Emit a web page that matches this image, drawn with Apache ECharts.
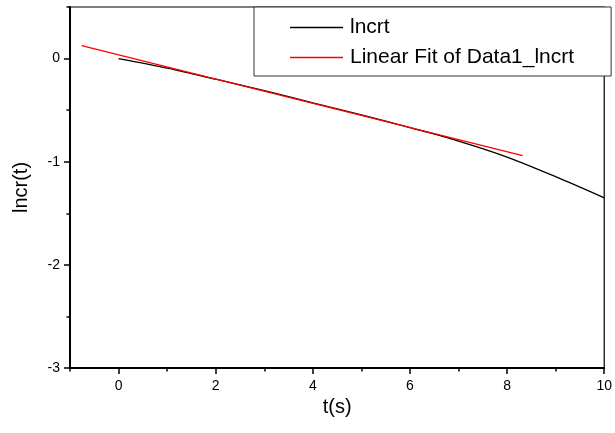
<!DOCTYPE html>
<html>
<head>
<meta charset="utf-8">
<script src="https://cdn.jsdelivr.net/npm/echarts@6/dist/echarts.min.js"></script>
<style>
html,body{margin:0;padding:0;background:#fff;}
#chart{width:615px;height:433px;}
</style>
</head>
<body>
<div id="chart"></div>
<script>
// ---- data ----
const tValues = [0, 1, 2, 3, 4, 5, 6, 7, 8, 9, 10];
const lncrtValues = [0, -0.092, -0.20, -0.31, -0.43, -0.545, -0.67, -0.80, -0.955, -1.145, -1.35];
const fitT = [-0.76, 8.32];
const fitValues = [0.126, -0.94];
const xMajorTicks = [0, 2, 4, 6, 8, 10];
const xMinorTicks = [-1, 1, 3, 5, 7, 9];
const yMajorTicks = [-3, -2, -1, 0];
const yMinorTicks = [-2.5, -1.5, -0.5, 0.5];
const seriesNames = ['lncrt', 'Linear Fit of Data1_lncrt'];
const xTitle = 't(s)';
const yTitle = 'lncr(t)';

const FONT = 'Liberation Sans';
const chart = echarts.init(document.getElementById('chart'), null, {renderer: 'canvas'});

const curve = tValues.map((t, i) => [t, lncrtValues[i]]);
const fit = fitT.map((t, i) => [t, fitValues[i]]);

const baseX = {
  type: 'value', min: -1, max: 10, gridIndex: 0, position: 'bottom',
  splitLine: {show: false}
};
const baseY = {
  type: 'value', min: -3, max: 0.5, gridIndex: 0, position: 'left',
  splitLine: {show: false}
};

chart.setOption({
  animation: false,
  backgroundColor: '#fff',
  grid: {
    left: 70, top: 7, width: 539, height: 361,
    show: true, borderColor: '#000', borderWidth: 1.2, backgroundColor: 'transparent'
  },
  legend: {
    orient: 'vertical', left: 254, top: 7,
    data: seriesNames.map(n => ({name: n, icon: 'rect'})),
    itemWidth: 53, itemHeight: 1.3, itemGap: 9,
    padding: [10, 37, 8, 36],
    borderColor: '#333', borderWidth: 1, backgroundColor: '#fff',
    textStyle: {fontFamily: FONT, fontSize: 21, color: '#000', padding: [0, 0, 0, 2]}
  },
  xAxis: [
    Object.assign({}, baseX, {
      name: xTitle, nameLocation: 'middle', nameGap: 22,
      nameTextStyle: {fontFamily: FONT, fontSize: 20, color: '#000'},
      axisLine: {show: true, onZero: false, lineStyle: {color: '#000', width: 2}},
      axisTick: {show: true, length: 6, customValues: xMajorTicks, lineStyle: {color: '#000', width: 1.5}},
      axisLabel: {show: true, margin: 11, customValues: xMajorTicks, alignMaxLabel: 'center', alignMinLabel: 'center',
        fontFamily: FONT, fontSize: 14, color: '#000'}
    }),
    Object.assign({}, baseX, {
      axisLine: {show: false, onZero: false},
      axisTick: {show: true, length: 3.5, customValues: xMinorTicks, lineStyle: {color: '#000', width: 1.5}},
      axisLabel: {show: false}
    })
  ],
  yAxis: [
    Object.assign({}, baseY, {
      name: yTitle, nameLocation: 'middle', nameGap: 39, nameRotate: 90,
      nameTextStyle: {fontFamily: FONT, fontSize: 20, color: '#000'},
      axisLine: {show: true, onZero: false, lineStyle: {color: '#000', width: 2}},
      axisTick: {show: true, length: 6, customValues: yMajorTicks, lineStyle: {color: '#000', width: 1.5}},
      axisLabel: {show: true, margin: 10, customValues: yMajorTicks, fontFamily: FONT, fontSize: 14, color: '#000'}
    }),
    Object.assign({}, baseY, {
      axisLine: {show: false, onZero: false},
      axisTick: {show: true, length: 3.5, customValues: yMinorTicks, lineStyle: {color: '#000', width: 1.5}},
      axisLabel: {show: false}
    })
  ],
  series: [
    {
      name: seriesNames[0], type: 'line', xAxisIndex: 0, yAxisIndex: 0,
      data: curve, smooth: 0.3, symbol: 'none', showSymbol: false,
      lineStyle: {color: '#000', width: 1.3}, itemStyle: {color: '#000'}, z: 3
    },
    {
      name: seriesNames[1], type: 'line', xAxisIndex: 0, yAxisIndex: 0,
      data: fit, symbol: 'none', showSymbol: false,
      lineStyle: {color: '#ff0000', width: 1.3}, itemStyle: {color: '#ff0000'}, z: 4
    }
  ]
});
</script>
</body>
</html>
